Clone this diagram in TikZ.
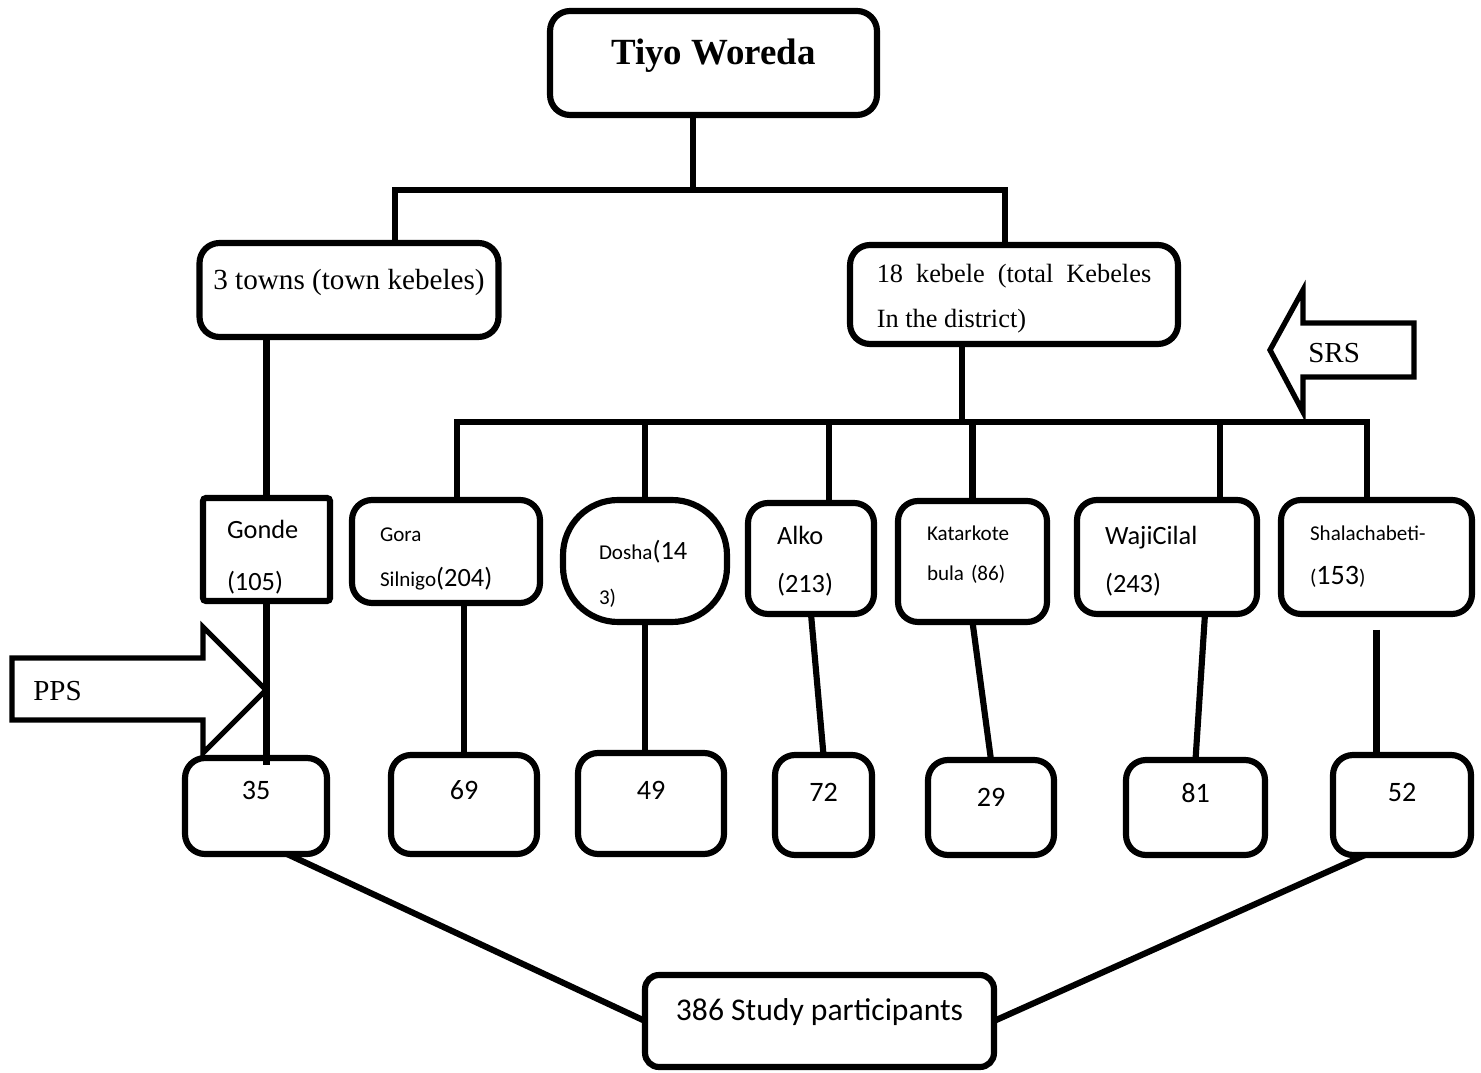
\documentclass[tikz,border=0pt]{standalone}
\usepackage{fontspec}
\setmainfont{Liberation Serif}
\newfontfamily\calibri{Carlito}

\begin{document}
\begin{tikzpicture}[
    x=0.02cm, y=-0.02cm,
    box/.style={rectangle, draw, line width=3.5pt, rounded corners=0.4cm, inner sep=0pt, outer sep=0pt, anchor=north, align=left},
    kebelebox/.style={box, font=\calibri\fontsize{12}{25.6}\selectfont},
    samplebox/.style={box, font=\calibri\fontsize{16}{19}\selectfont},
    blockarrow/.style={draw, line width=3pt, line join=miter},
    link/.style={line width=3.5pt}
]
\useasboundingbox (0,0) rectangle (1481,1072);

\node[box, minimum width=6.54cm, text height=1.08cm, text depth=1cm, font=\bfseries\fontsize{21}{25}\selectfont] (woreda) at (713.5,11) {Tiyo Woreda};
\node[box, minimum width=5.98cm, text height=0.94cm, text depth=0.94cm, font=\fontsize{16.6}{20}\selectfont] (towns) at (349,243) {3 towns (town kebeles)};
\node[box, text width=5.49cm, inner xsep=0.535cm, align=justify, text height=0.76cm, text depth=1.22cm, font=\fontsize{15}{25.6}\selectfont] (kebele) at (1014,245) {18 kebele (total Kebeles\linebreak In the district)};

\node[box, rounded corners=0.06cm, text width=1.58cm, inner xsep=0.48cm, text height=0.8cm, text depth=1.26cm, font=\calibri\fontsize{15}{29.6}\selectfont] (gonde) at (266.5,498) {Gonde\\(105)};
\node[kebelebox, text width=2.64cm, inner xsep=0.56cm, text height=0.84cm, text depth=1.22cm] (gora) at (446,500) {Gora\\Silnigo{\fontsize{15}{18}\selectfont(204)}};
\node[kebelebox, rounded corners=1.1cm, text width=1.84cm, inner xsep=0.72cm, text height=1.2cm, text depth=1.24cm] (dosha) at (645,500) {Dosha{\fontsize{15}{18}\selectfont(14}\\3)};
\node[box, text width=1.36cm, inner xsep=0.58cm, text height=0.84cm, text depth=1.38cm, font=\calibri\fontsize{15}{27.3}\selectfont] (alko) at (811,503) {Alko\\(213)};
\node[kebelebox, text width=1.82cm, inner xsep=0.58cm, text height=0.78cm, text depth=1.64cm, font=\calibri\fontsize{12}{22.8}\selectfont] (katarkote) at (972.5,501) {Katarkote\\bula (86)};
\node[box, text width=2.48cm, inner xsep=0.56cm, text height=0.9cm, text depth=1.38cm, font=\calibri\fontsize{15}{27.3}\selectfont] (waji) at (1167,500) {WajiCilal\\(243)};
\node[kebelebox, text width=2.66cm, inner xsep=0.58cm, text height=0.8cm, text depth=1.48cm] (shala) at (1376.5,500) {Shalachabeti-\\({\fontsize{16}{19}\selectfont 153})};

\node[samplebox, minimum width=2.84cm, text height=0.82cm, text depth=1.1cm] (gondeN) at (256,758) {35};
\node[samplebox, minimum width=2.92cm, text height=0.88cm, text depth=1.1cm] (goraN) at (464,755) {69};
\node[samplebox, minimum width=2.92cm, text height=0.92cm, text depth=1.1cm] (doshaN) at (651,753) {49};
\node[samplebox, minimum width=1.94cm, text height=0.92cm, text depth=1.08cm] (alkoN) at (823.5,755) {72};
\node[samplebox, minimum width=2.52cm, text height=0.92cm, text depth=0.98cm] (katarkoteN) at (991,760) {29};
\node[samplebox, minimum width=2.78cm, text height=0.84cm, text depth=1.06cm] (wajiN) at (1195.5,760) {81};
\node[samplebox, minimum width=2.76cm, text height=0.92cm, text depth=1.08cm] (shalaN) at (1402,755) {52};
\node[samplebox, rounded corners=0.28cm, minimum width=6.98cm, text height=0.9cm, text depth=0.94cm, font=\calibri\fontsize{18}{22}\selectfont] (study) at (819.5,975) {386 Study participants};

\draw[blockarrow] (12,658) -- (203,658) -- (203,627) -- (266,690) -- (203,753) -- (203,720) -- (12,720) -- cycle;
\node[anchor=base west, inner sep=0pt, font=\fontsize{16.5}{20}\selectfont] (pps) at (33,700) {PPS};
\draw[blockarrow] (1414,323) -- (1303,323) -- (1303,290) -- (1270,350) -- (1303,412) -- (1303,377) -- (1414,377) -- cycle;
\node[anchor=base west, inner sep=0pt, font=\fontsize{16.5}{20}\selectfont] (srs) at (1308,362) {SRS};

\coordinate (hub) at (693,190);
\coordinate (hubL) at (395,190);
\coordinate (hubR) at (1005,190);
\coordinate (bus) at (962,422);
\coordinate (busL) at (457,422);
\coordinate (busR) at (1367,422);

\draw[link] (woreda.south -| hub) -- (hub);
\draw[link] (towns.north -| hubL) -- (hubL) -- (hubR) -- (kebele.north -| hubR);
\draw[link] (towns.south -| gonde.north) -- (gonde.north);
\draw[link] (kebele.south -| bus) -- (bus);
\draw[link] (gora.north -| busL) -- (busL) -- (busR) -- (shala.north -| busR);
\draw[link] (dosha.north) -- (dosha.north |- bus);
\draw[link] ([xshift=0.36cm]alko.north) -- ([xshift=0.36cm]alko.north |- bus);
\draw[link] (katarkote.north) -- (katarkote.north |- bus);
\draw[link] ([xshift=1.06cm]waji.north) -- ([xshift=1.06cm]waji.north |- bus);

\draw[link] (gonde.south) -- ([yshift=-0.14cm]gonde.south |- gondeN.north);
\draw[link] (gora.south -| goraN.north) -- (goraN.north);
\draw[link] (dosha.south) -- (dosha.south |- doshaN.north);
\draw[link] (alko.south) -- (alkoN.north);
\draw[link] (katarkote.south) -- (katarkoteN.north);
\draw[link] ([xshift=0.76cm]waji.south) -- (wajiN.north);
\draw[link] ([yshift=-0.32cm]shala.south) -- (shala.south |- shalaN.north);
\draw[link] ([xshift=0.62cm]gondeN.south) -- (study.west);
\draw[link] ([xshift=-0.74cm]shalaN.south) -- (study.east);
\end{tikzpicture}
\end{document}
